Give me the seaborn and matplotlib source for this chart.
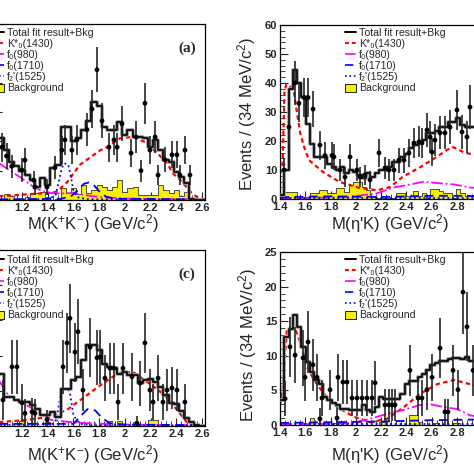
import numpy as np
import matplotlib
matplotlib.use('Agg')
import matplotlib.pyplot as plt
import seaborn as sns
from matplotlib.lines import Line2D
from matplotlib.patches import Patch
from matplotlib.ticker import MultipleLocator, FormatStrFormatter, FuncFormatter

# ---- binned fit components (events per bin) ----
# left panels: M(K+K-) bins of 40 MeV starting at 0.98 GeV
TOTAL_A = [22, 21, 17, 13, 11.5, 10, 8.5, 6.8, 4.5, 7.5, 5, 11, 12, 25, 25, 20, 21, 24, 27, 33.4,
           32, 25, 24, 24, 26.6, 22, 24, 21.5, 21.5, 21, 18, 20.5, 17, 13.7, 13, 9.6, 7.8, 5.8, 0.5, 0, 0]
BKG_A = [7, 0.5, 2, 1.5, 0.5, 0.5, 1, 2, 2.4, 2.7, 1, 0, 0.5, 4, 2.5, 4, 2, 5, 2.5, 3.5,
         5, 4.5, 3.4, 4.4, 6.8, 2.7, 4, 4.4, 1.7, 1.7, 1.7, 1.7, 5, 3.4, 2.4, 3.4, 1.4, 2.7, 0, 0, 0]
TOTAL_C = [7.4, 7.4, 4.1, 4.1, 3.7, 3.4, 3.4, 3.0, 2.4, 1.5, 1.5, 2, 1.3, 5.3, 5.3, 6.5, 7, 9.4, 11.5, 11.5,
           10.8, 8.8, 8.4, 8.2, 7.4, 7.7, 7.2, 7.2, 6.1, 6.5, 6.7, 6.2, 5.5, 4.4, 3.2, 3.1, 2.2, 1.1, 0.5, 0.2, 0]
BKG_C = [0.7, 0, 0, 0, 0, 0.7, 0, 0, 0, 0, 0.5, 0, 0, 0, 0, 0, 0, 0, 0, 0,
         0, 0, 0.7, 0, 0.7, 0, 0, 0.6, 0, 0, 0.9, 0.9, 0, 0, 0, 0, 0, 0, 0, 0, 0]
# right panels: M(eta'K) bins of 34 MeV starting at 1.4 GeV
TOTAL_B = [1.5, 10, 38, 44.5, 40, 35, 26, 19, 14.5, 14.5, 14.5, 12, 11, 10, 11, 9, 10, 9.3, 8.3, 7.2,
           9, 7.6, 9, 10, 10, 11, 12.8, 12.8, 14.5, 15.5, 17.6, 18.5, 19.7, 20.5, 22.7, 22.7, 23.5, 24.8,
           24.8, 26.6, 26.6, 27.9, 25.5, 24.8, 24.8, 24.8, 24.8]
BKG_B = [0, 2.4, 2.4, 2.4, 0.5, 0.5, 0.5, 2, 2, 3, 3, 2, 2, 3.8, 3.8, 2.5, 4.8, 5.8, 5.8, 4.1,
         3, 1, 0.5, 0.5, 0.5, 0.5, 0.5, 2, 2, 1, 1, 2.8, 1, 2, 0.5, 3.4, 3.4, 2.8, 2, 2,
         0.5, 3.4, 2, 1, 1, 1, 1]
TOTAL_D = [3.6, 12.7, 13.9, 15.9, 14.2, 11.3, 9.1, 7.7, 6.5, 5.9, 4, 3.6, 3.2, 2.9, 2.3, 2.3, 2.2, 2.2, 2.2, 2.9,
           2.2, 1.9, 2.6, 4, 3.8, 3.8, 3.8, 3.8, 4.5, 5.9, 6.4, 6.4, 7, 7.4, 7.9, 8.6, 8.9, 9.3, 9.3, 9.6,
           9.7, 9.7, 9.6, 9.8, 9.2, 9.2, 9.2]
BKG_D = [0, 0, 0, 0, 0, 0, 0, 1.0, 0, 0, 0, 0, 0.3, 0, 0, 0, 0, 0, 0, 0,
         0, 0, 0, 0.5, 0.5, 0, 0, 0, 0, 0, 1.4, 1.4, 0.5, 0, 0, 0, 0.3, 0, 0, 0,
         0.3, 0.3, 0, 0, 0, 0, 0]

# ---- fit curves ----
KST_A_X = [0.98, 1.1, 1.26, 1.40, 1.47, 1.55, 1.65, 1.73, 1.81, 1.86, 1.96, 2.06, 2.17, 2.25, 2.33, 2.37, 2.43, 2.48, 2.52, 2.56, 2.62]
KST_A_Y = [1.2, 1.5, 2, 2.4, 2.8, 6, 12, 14.5, 17, 18, 21, 21.5, 19.5, 16, 12.6, 9.2, 6.8, 4.4, 2.4, 1, 0.3]
F980_A_X = [0.98, 1.0, 1.09, 1.185, 1.285, 1.34, 1.42, 1.5, 1.6, 1.7, 1.8, 2.0, 2.62]
F980_A_Y = [13.8, 13.2, 10.5, 7.8, 4.6, 3.4, 2.4, 2.2, 2.4, 1.6, 1, 0.5, 0.2]
F1710_A_X = [0.98, 1.5, 1.58, 1.64, 1.68, 1.72, 1.76, 1.8, 1.85, 1.92, 2.62]
F1710_A_Y = [0.2, 0.4, 1.2, 3.5, 5.5, 6, 5, 3, 1.2, 0.4, 0.2]
F1525_A_X = [0.98, 1.40, 1.46, 1.49, 1.51, 1.53, 1.56, 1.58, 1.60, 1.63, 1.70, 2.0, 2.62]
F1525_A_Y = [0.1, 0.3, 1.5, 7, 11, 12.5, 12, 8, 3, 1, 0.3, 0.1, 0.1]

KST_B_X = [1.40, 1.42, 1.435, 1.45, 1.47, 1.49, 1.51, 1.53, 1.56, 1.59, 1.63, 1.74, 1.87, 2.03, 2.17, 2.27, 2.37, 2.51, 2.64, 2.72, 2.77, 2.86, 2.94, 3.0]
KST_B_Y = [9, 10, 37, 39.5, 39, 38.5, 37, 31, 22.7, 18, 13.4, 9.3, 5.9, 3.8, 3.0, 4.1, 7.6, 11, 14.5, 16.9, 17.9, 16, 15.2, 15]
F980_B_X = [1.4, 1.8, 2.0, 2.17, 2.30, 2.43, 2.54, 2.64, 2.78, 2.90, 3.0]
F980_B_Y = [0.3, 0.5, 1, 2, 4, 5, 6, 5.5, 5, 4, 3.6]
F1710_B_X = [1.4, 1.6, 1.8, 2.0, 2.2, 2.4, 2.6, 2.8, 3.0]
F1710_B_Y = [0.6, 0.8, 0.9, 0.8, 0.7, 0.9, 1.1, 1.1, 1.0]
F1525_B_X = [1.4, 3.0]
F1525_B_Y = [0.2, 0.2]

KST_C_X = [0.98, 1.2, 1.42, 1.55, 1.67, 1.81, 1.94, 2.06, 2.17, 2.31, 2.405, 2.48, 2.53, 2.62]
KST_C_Y = [0.5, 0.8, 1.3, 2.3, 3.9, 5.8, 7.4, 7.7, 6.3, 4.4, 2.3, 0.6, 0.15, 0.05]
F980_C_X = [0.98, 1.01, 1.08, 1.17, 1.26, 1.34, 1.42, 1.55, 1.7, 2.0, 2.62]
F980_C_Y = [7.2, 6.8, 4.7, 3.5, 2.7, 1.8, 0.9, 0.6, 0.4, 0.2, 0.1]
F1710_C_X = [0.98, 1.6, 1.66, 1.71, 1.77, 1.82, 1.88, 2.0, 2.62]
F1710_C_Y = [0.3, 0.3, 1.5, 2.4, 2.2, 1.2, 0.4, 0.2, 0.1]
F1525_C_X = [0.98, 1.44, 1.47, 1.50, 1.53, 1.57, 1.60, 1.65, 1.75, 2.62]
F1525_C_Y = [0.1, 0.3, 1, 4.5, 5.3, 5, 1.5, 0.3, 0.1, 0.05]

KST_D_X = [1.40, 1.416, 1.455, 1.519, 1.535, 1.574, 1.614, 1.669, 1.748, 1.851, 1.985, 2.112, 2.247, 2.381, 2.508, 2.642, 2.777, 2.903, 3.0]
KST_D_Y = [3, 4, 13.9, 13.9, 13.2, 11.3, 8.4, 6.5, 4.5, 2.6, 1.2, 0.4, 0.9, 2.6, 4.5, 5.9, 6.5, 5.9, 5.5]
F980_D_X = [1.4, 1.9, 2.0, 2.112, 2.247, 2.381, 2.508, 2.587, 2.697, 2.8, 2.903, 3.0]
F980_D_Y = [0.1, 0.2, 0.4, 0.9, 1.6, 2.2, 2.9, 3.0, 2.6, 2.3, 1.4, 1.1]
F1710_D_X = [1.4, 1.8, 2.2, 2.6, 3.0]
F1710_D_Y = [0.3, 0.4, 0.5, 0.7, 0.8]
F1525_D_X = [1.4, 3.0]
F1525_D_Y = [0.15, 0.15]

# ---- data points ----
DATA_A_X = [1.044, 1.08, 1.12, 1.2, 1.223, 1.29, 1.301, 1.394, 1.456, 1.51, 1.534, 1.588, 1.627, 1.705, 1.745, 1.783, 1.822,
            1.876, 1.915, 1.94, 1.978, 2.048, 2.087, 2.125, 2.156, 2.195, 2.235, 2.258, 2.312, 2.366, 2.405, 2.428, 2.467, 2.506]
DATA_A_Y = [18, 15, 11.5, 10.2, 13.6, 6.8, 4.4, 4.4, 11, 17, 20.5, 17, 20.5, 24, 31, 44.4, 27,
            18, 20.5, 18, 26, 16, 21.5, 10, 33, 17, 21.5, 8.5, 13.7, 15.4, 15.4, 8.5, 17, 8.5]
DATA_A_E = [5, 4.5, 4, 4, 4.2, 3.2, 2.6, 2.6, 4, 4.8, 5.2, 4.8, 5.2, 5.7, 6.5, 7.7, 6,
            5, 5.2, 5, 6, 4.8, 5.5, 3.8, 7, 4.8, 5.5, 3.5, 4.3, 4.6, 4.6, 3.5, 4.8, 3.5]

DATA_B_X = [1.432, 1.471, 1.519, 1.55, 1.59, 1.622, 1.661, 1.716, 1.756, 1.811, 1.827, 1.875, 1.914, 1.954, 2.009, 2.033,
            2.072, 2.112, 2.183, 2.231, 2.262, 2.302, 2.341, 2.381, 2.421, 2.46, 2.5, 2.523, 2.563, 2.587, 2.603, 2.626,
            2.666, 2.705, 2.745, 2.8, 2.84, 2.879, 2.903]
DATA_B_Y = [10, 24.8, 40, 33, 35, 35, 31, 18.6, 15, 15, 14.5, 10, 7.6, 14.5, 10, 7.6,
            8.3, 6.6, 15.9, 10.7, 10, 10, 13.4, 13.4, 15.9, 19.3, 19.7, 19.3, 23.8, 21.4, 16.2, 20.3,
            22.8, 22.8, 24.8, 30.7, 23.1, 21.4, 31.7]
DATA_B_E = [4, 6, 7.5, 6.5, 6.8, 6.8, 6.3, 5, 4.5, 4.5, 4.4, 3.8, 3.3, 4.4, 3.8, 3.3,
            3.4, 3.1, 4.8, 3.9, 3.8, 3.8, 4.3, 4.3, 4.8, 5.2, 5.3, 5.2, 5.8, 5.5, 4.8, 5.4,
            5.7, 5.7, 6, 7, 5.8, 5.5, 7.5]

DATA_C_X = [1.052, 1.122, 1.161, 1.2, 1.223, 1.278, 1.301, 1.394, 1.519, 1.55, 1.573, 1.612, 1.635, 1.674, 1.729, 1.783, 1.807,
            1.845, 1.884, 1.915, 1.947, 1.985, 2.055, 2.094, 2.118, 2.156, 2.195, 2.219, 2.258, 2.296, 2.328, 2.366, 2.405, 2.467]
DATA_C_Y = [3.7, 8.4, 8.4, 3.3, 1.8, 2.0, 1.8, 0.9, 8.4, 11.8, 15.3, 10.5, 13.4, 5.1, 11.2, 9.7, 9.8,
            6.8, 8.2, 8.2, 3.4, 8.2, 7.0, 0.4, 6.1, 11.8, 5.1, 3.4, 6.8, 3.4, 5.1, 5.4, 5.1, 3.4]
DATA_C_E = [2.8, 3.8, 3.8, 2.6, 2.0, 2.0, 2.0, 1.4, 3.8, 4.3, 4.9, 4.2, 4.6, 3.0, 4.2, 3.9, 3.9,
            3.3, 3.6, 3.6, 2.6, 3.6, 3.4, 1.0, 3.2, 4.3, 3.0, 2.6, 3.3, 2.6, 3.0, 3.0, 3.0, 2.6]

DATA_D_X = [1.44, 1.479, 1.519, 1.582, 1.598, 1.622, 1.661, 1.693, 1.716, 1.732, 1.796, 1.851, 1.859, 1.898, 1.93, 1.97,
            2.009, 2.049, 2.088, 2.128, 2.152, 2.231, 2.262, 2.286, 2.31, 2.428, 2.492, 2.523, 2.563, 2.603, 2.666, 2.705,
            2.729, 2.769, 2.808, 2.848, 2.879, 2.927]
DATA_D_Y = [3.8, 11.3, 10.1, 9.7, 6.9, 12, 8.7, 6.9, 0.9, 3.9, 5.1, 1.0, 6.9, 6.2, 6.2, 3.9,
            3.9, 3.9, 3.9, 3.9, 6.1, 2.9, 2.9, 2.9, 2.9, 7.9, 3.9, 3.9, 5.1, 6.9, 11.1, 1.9,
            1.9, 7.9, 5.1, 19.2, 14.2, 7.9]
DATA_D_E = [2.5, 4.3, 4.1, 4, 3.4, 4.5, 3.8, 3.4, 1.5, 2.6, 2.9, 1.5, 3.4, 3.2, 3.2, 2.6,
            2.6, 2.6, 2.6, 2.6, 3.2, 2.3, 2.3, 2.3, 2.3, 3.7, 2.6, 2.6, 2.9, 3.4, 4.3, 1.9,
            1.9, 3.7, 2.9, 6, 5, 3.7]

LABELS = ['Total fit result+Bkg', 'K*₀(1430)', 'f₀(980)', 'f₀(1710)', "f₂'(1525)", 'Background']

sns.set_style('ticks')
plt.rcParams['font.family'] = ['Liberation Sans', 'DejaVu Sans']
plt.rcParams['mathtext.default'] = 'regular'

YELLOW = '#f4f000'
W = 474.0
fig = plt.figure(figsize=(4.74, 4.74), dpi=100)


def px_axes(left, top, width, height):
    return fig.add_axes([left / W, 1 - (top + height) / W, width / W, height / W])


def draw_panel(ax, edges, total, bkg, curves, dx, dy, de):
    centers = list((edges[:-1] + edges[1:]) / 2)
    bins = list(edges)
    sns.histplot(x=centers, weights=bkg, bins=bins, element='step', fill=True, color=YELLOW,
                 edgecolor='#333333', linewidth=0.6, alpha=1, ax=ax, zorder=1)
    for cx, cy, col, ls, lw in curves:
        sns.lineplot(x=cx, y=cy, color=col, linestyle=ls, linewidth=lw, ax=ax, zorder=2)
    sns.histplot(x=centers, weights=total, bins=bins, element='step', fill=False,
                 color='0.6', linewidth=2.6, ax=ax, zorder=3)
    sns.histplot(x=centers, weights=total, bins=bins, element='step', fill=False,
                 color='black', linewidth=1.2, ax=ax, zorder=4)
    ax.vlines(dx, np.array(dy) - np.array(de), np.array(dy) + np.array(de),
              color='0.15', linewidth=1.2, zorder=5)
    sns.scatterplot(x=dx, y=dy, color='black', s=12, edgecolor='none', ax=ax, zorder=6)


def style_axes(ax, xlim, ylim, ymaj, ymin, left_panel):
    ax.set_xlim(*xlim)
    ax.set_ylim(*ylim)
    ax.xaxis.set_major_locator(MultipleLocator(0.2))
    ax.xaxis.set_minor_locator(MultipleLocator(0.04))
    ax.yaxis.set_major_locator(MultipleLocator(ymaj))
    ax.yaxis.set_minor_locator(MultipleLocator(ymin))
    # labels that would sit beyond the cropped edges are left blank
    ax.xaxis.set_major_formatter(FuncFormatter(lambda v, p: '' if (v < 1.1 or v > 2.95) else f'{v:g}'))
    ax.yaxis.set_major_formatter(FormatStrFormatter('%g'))
    ax.tick_params(which='major', direction='in', length=6, width=0.8, labelsize=8, pad=2)
    ax.tick_params(which='minor', direction='in', length=3.5, width=0.6)
    if left_panel:
        ax.tick_params(axis='y', labelleft=False)
    plt.setp(ax.get_xticklabels() + ax.get_yticklabels(), fontweight='bold')
    for s in ax.spines.values():
        s.set_linewidth(0.9)
        s.set_color('black')
    ax.set_xlabel('')
    ax.set_ylabel('')


def add_legend(ax, text_left, top):
    fs_px = 10.55
    handles = [Line2D([], [], color='black', lw=1.4),
               Line2D([], [], color='red', ls=(0, (2, 1.5)), lw=1.4),
               Line2D([], [], color='magenta', ls='-.', lw=1.2),
               Line2D([], [], color='blue', ls=(0, (5, 3)), lw=1.2),
               Line2D([], [], color='blue', ls=':', lw=1.2),
               Patch(facecolor=YELLOW, edgecolor='black', lw=0.6)]
    hl, pad = 1.0, 0.3
    left = text_left - (hl + pad) * fs_px
    ax.legend(handles, LABELS, loc='upper left', bbox_to_anchor=(left / W, 1 - top / W),
              bbox_transform=fig.transFigure, frameon=False, fontsize=7.6, borderpad=0,
              handlelength=hl, handleheight=0.8, handletextpad=pad, labelspacing=0.1,
              borderaxespad=0)


edges_kk = 0.98 + 0.04 * np.arange(42)
edges_ek = 1.40 + 0.034 * np.arange(48)

# left panels span x = 0.98 .. 2.62 at 128.6 px per GeV
ax_a = px_axes(22 - 0.22 * 128.6, 24, 1.64 * 128.6, 176)
ax_c = px_axes(22 - 0.22 * 128.6, 250, 1.64 * 128.6, 176)
# right panels span x = 1.4 .. 3.0 at 126.4 px per GeV
ax_b = px_axes(280, 25, 1.6 * 126.4, 174)
ax_d = px_axes(280, 252, 1.6 * 126.4, 173)

DASH = (0, (2, 1.5))
draw_panel(ax_a, edges_kk, TOTAL_A, BKG_A,
           [(KST_A_X, KST_A_Y, 'red', DASH, 1.6), (F980_A_X, F980_A_Y, 'magenta', '-.', 1.3),
            (F1710_A_X, F1710_A_Y, 'blue', (0, (5, 3)), 1.3), (F1525_A_X, F1525_A_Y, 'blue', ':', 1.3)],
           DATA_A_X, DATA_A_Y, DATA_A_E)
draw_panel(ax_b, edges_ek, TOTAL_B, BKG_B,
           [(KST_B_X, KST_B_Y, 'red', DASH, 1.6), (F980_B_X, F980_B_Y, 'magenta', '-.', 1.3),
            (F1710_B_X, F1710_B_Y, 'blue', (0, (5, 3)), 1.3), (F1525_B_X, F1525_B_Y, 'blue', ':', 1.3)],
           DATA_B_X, DATA_B_Y, DATA_B_E)
draw_panel(ax_c, edges_kk, TOTAL_C, BKG_C,
           [(KST_C_X, KST_C_Y, 'red', DASH, 1.6), (F980_C_X, F980_C_Y, 'magenta', '-.', 1.3),
            (F1710_C_X, F1710_C_Y, 'blue', (0, (5, 3)), 1.3), (F1525_C_X, F1525_C_Y, 'blue', ':', 1.3)],
           DATA_C_X, DATA_C_Y, DATA_C_E)
draw_panel(ax_d, edges_ek, TOTAL_D, BKG_D,
           [(KST_D_X, KST_D_Y, 'red', DASH, 1.6), (F980_D_X, F980_D_Y, 'magenta', '-.', 1.3),
            (F1710_D_X, F1710_D_Y, 'blue', (0, (5, 3)), 1.3), (F1525_D_X, F1525_D_Y, 'blue', ':', 1.3)],
           DATA_D_X, DATA_D_Y, DATA_D_E)

style_axes(ax_a, (0.98, 2.62), (0, 60), 10, 2, True)
style_axes(ax_c, (0.98, 2.62), (0, 25), 5, 1, True)
style_axes(ax_b, (1.4, 3.0), (0, 60), 10, 2, False)
style_axes(ax_d, (1.4, 3.0), (0, 25), 5, 1, False)

add_legend(ax_a, 7, 28)
add_legend(ax_b, 359, 28)
add_legend(ax_c, 7, 255)
add_legend(ax_d, 359, 255)

lab_kw = dict(fontsize=12, ha='center', va='center')
fig.text(93 / W, 1 - 224 / W, 'M(K$^{+}$K$^{-}$) (GeV/c$^{2}$)', **lab_kw)
fig.text(93 / W, 1 - 455 / W, 'M(K$^{+}$K$^{-}$) (GeV/c$^{2}$)', **lab_kw)
fig.text(390 / W, 1 - 224 / W, "M(η'K) (GeV/c$^{2}$)", **lab_kw)
fig.text(390 / W, 1 - 455 / W, "M(η'K) (GeV/c$^{2}$)", **lab_kw)
fig.text(247 / W, 1 - 114 / W, 'Events / (34 MeV/c$^{2}$)', rotation=90, **lab_kw)
fig.text(248 / W, 1 - 345 / W, 'Events / (34 MeV/c$^{2}$)', rotation=90, **lab_kw)

tag_kw = dict(fontsize=11, ha='center', va='center', family='Liberation Serif', fontweight='bold')
fig.text(187 / W, 1 - 48 / W, '(a)', **tag_kw)
fig.text(187 / W, 1 - 274 / W, '(c)', **tag_kw)

fig.savefig('out.png', dpi=100)
